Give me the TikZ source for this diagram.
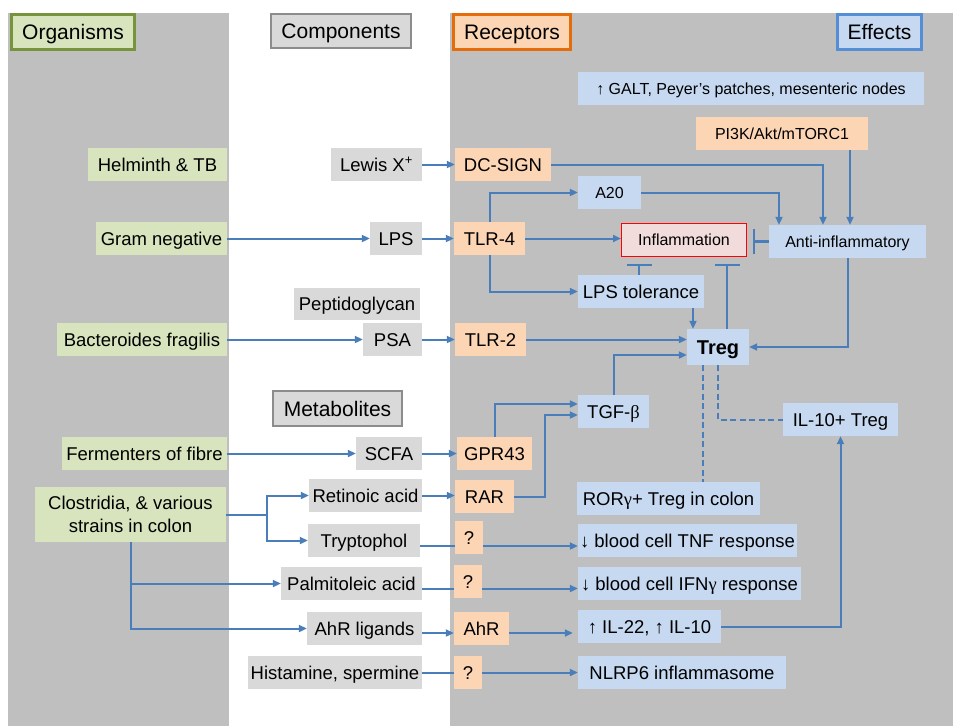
\documentclass[tikz,border=0pt]{standalone}
\usepackage{fontspec}
\setmainfont{Liberation Sans}
\newfontfamily\grk{Liberation Serif}
\usetikzlibrary{arrows.meta,calc}
\definecolor{panelgray}{HTML}{BFBFBF}
\definecolor{greenfill}{HTML}{D7E4BD}
\definecolor{grayfill}{HTML}{D9D9D9}
\definecolor{peach}{HTML}{FCD5B5}
\definecolor{bluefill}{HTML}{C6D9F1}
\definecolor{pinkfill}{HTML}{F2DCDB}
\definecolor{lineblue}{HTML}{4A7EBB}
\definecolor{olivebd}{HTML}{77933C}
\definecolor{graybd}{HTML}{8C8C8C}
\definecolor{orangebd}{HTML}{E46C0A}
\definecolor{bluebd}{HTML}{558ED5}
\newcommand{\bx}[7]{%
  \pgfmathsetmacro\myBW{#5-#3}%
  \pgfmathsetmacro\myBH{#6-#4}%
  \pgfmathsetmacro\myCX{(#3+#5)/2}%
  \pgfmathsetmacro\myCY{(#4+#6)/2}%
  \node[#1, minimum width=\myBW pt, minimum height=\myBH pt] (#2) at (\myCX,\myCY) {#7};}
\tikzset{
  base/.style={inner sep=0pt, text=black, align=center, font=\fontsize{18.5}{21.5}\selectfont},
  one/.style={text height=13.3pt, text depth=0pt},
  gbox/.style={base, one, fill=grayfill},
  obox/.style={base, one, fill=greenfill},
  rbox/.style={base, one, fill=peach},
  ebox/.style={base, one, fill=bluefill},
  small/.style={font=\fontsize{16}{19}\selectfont, text height=11.5pt},
  hdr/.style={base, font=\fontsize{21}{24}\selectfont, text height=15pt, text depth=0pt, line width=3pt},
  ln/.style={draw=lineblue, line width=2pt},
  arr/.style={ln, -{Triangle[length=8pt,width=7pt]}},
  inh/.style={draw=lineblue, line width=2.2pt, -{Bar[width=25pt,line width=2.2pt]}},
  dln/.style={ln, dash pattern=on 6pt off 3.5pt}
}
\begin{document}
\begin{tikzpicture}[x=1pt,y=-1pt]
\useasboundingbox (0,0) rectangle (953,726);
\fill[white] (0,0) rectangle (953,726);
\fill[panelgray] (8,13) rectangle (229,726);
\fill[panelgray] (450,13) rectangle (953,726);
% headers
\bx{hdr, fill=greenfill, draw=olivebd}{horg}{11.5}{14.5}{134.5}{49.5}{Organisms}
\bx{hdr, fill=grayfill, draw=graybd, line width=2pt}{hcomp}{271}{14}{411}{48}{Components}
\bx{hdr, fill=peach, draw=orangebd}{hrec}{453.5}{14.5}{570.5}{49.5}{Receptors}
\bx{hdr, fill=bluefill, draw=bluebd}{heff}{837.5}{14.5}{921.5}{49.5}{Effects}
\bx{hdr, fill=grayfill, draw=graybd, line width=2pt}{hmet}{273}{391}{402}{426}{Metabolites}
% organisms
\bx{obox}{helm}{88}{148}{227}{181}{Helminth \& TB}
\bx{obox}{gram}{96}{222}{227}{255}{Gram negative}
\bx{obox}{bfrag}{57}{323}{227}{356}{Bacteroides fragilis}
\bx{obox}{ferm}{62}{437}{227}{470}{Fermenters of fibre}
\bx{base, fill=greenfill, font=\fontsize{18.5}{23}\selectfont}{clos}{35}{487}{226}{542}{Clostridia, \& various\\strains in colon}
% components
\bx{gbox}{lewis}{331}{148}{422}{181}{Lewis X\textsuperscript{+}}
\bx{gbox}{lps}{370}{222}{422}{255}{LPS}
\bx{gbox}{pept}{294}{288}{420}{320}{Peptidoglycan}
\bx{gbox}{psa}{363}{323}{422}{356}{PSA}
\bx{gbox}{scfa}{356}{437}{422}{470}{SCFA}
\bx{gbox}{retacid}{309}{479}{422}{512}{Retinoic acid}
\bx{gbox}{tryp}{308}{524}{420}{557}{Tryptophol}
\bx{gbox}{palm}{281}{567}{422}{600}{Palmitoleic acid}
\bx{gbox}{ahrlig}{307}{612}{422}{645}{AhR ligands}
\bx{gbox}{hist}{248}{656}{422}{689}{Histamine, spermine}
% receptors
\bx{rbox}{dcsign}{455}{148}{551}{181}{DC-SIGN}
\bx{rbox}{tlr4}{454}{222}{525}{255}{TLR-4}
\bx{rbox}{tlr2}{455}{323}{526}{356}{TLR-2}
\bx{rbox}{gpr43}{457}{437}{532}{470}{GPR43}
\bx{rbox}{rar}{455}{480}{514}{513}{RAR}
\bx{rbox}{q1}{455}{521}{483}{554}{?}
\bx{rbox}{q2}{454}{565}{482}{598}{?}
\bx{rbox}{ahr}{454}{612}{509}{645}{AhR}
\bx{rbox}{q3}{454}{656}{482}{689}{?}
\bx{rbox, small}{pi3k}{696}{117}{868}{150}{PI3K/Akt/mTORC1}
% effects
\bx{ebox, small}{galt}{578}{72}{924}{105}{↑ GALT, Peyer’s patches, mesenteric nodes}
\bx{ebox, small}{a20}{578}{176}{641}{209}{A20}
\bx{base, one, small, fill=pinkfill, draw=red, line width=1.2pt}{infl}{621.6}{223.6}{746.4}{256.4}{Inflammation}
\bx{ebox, small}{anti}{769}{225}{926}{258}{Anti-inflammatory}
\bx{ebox}{lpstol}{578}{275}{704}{308}{LPS tolerance}
\bx{ebox, font=\bfseries\fontsize{20}{23}\selectfont, text height=14.5pt}{treg}{687}{329}{749}{365}{Treg}
\bx{ebox}{tgfb}{578}{395}{649}{428}{TGF-{\grk β}}
\bx{ebox}{il10t}{783}{403}{898}{436}{IL-10+ Treg}
\bx{ebox}{ror}{577}{482}{760}{515}{ROR{\grk γ}+ Treg in colon}
\bx{ebox}{tnf}{578}{524}{797}{557}{↓ blood cell TNF response}
\bx{ebox}{ifn}{578}{567}{801}{600}{↓ blood cell IFN{\grk γ} response}
\bx{ebox}{il22}{578}{610}{721}{643}{↑ IL-22, ↑ IL-10}
\bx{ebox}{nlrp}{578}{656}{786}{689}{NLRP6 inflammasome}
% connectors: top
\draw[arr] (lewis.east) -- (dcsign.west);
\draw[arr] (dcsign.east) -| ([xshift=-24.5pt]anti.north);
\coordinate (pk) at ([xshift=2.5pt]anti.north);
\draw[arr] (pi3k.south -| pk) -- (pk);
\draw[arr] (a20.east) -| ([xshift=-68.5pt]anti.north);
\draw[arr] (tlr4.north) |- (a20.west);
\draw[arr] (tlr4.east) -- (tlr4.east -| infl.west);
\draw[arr] (tlr4.south) |- (lpstol.west);
\coordinate (ie) at ([xshift=6pt]infl.east);
\draw[inh] (anti.west) -- (anti.west -| ie);
\coordinate (ib) at ([yshift=-7pt]infl.south);
\coordinate (lt) at ([xshift=-2pt]lpstol.north);
\draw[inh] (lt) -- (lt |- ib);
\coordinate (tt) at ([xshift=9pt]treg.north);
\draw[inh] (tt) -- (tt |- ib);
\coordinate (lb) at ([xshift=52pt]lpstol.south);
\draw[arr] (lb) -- (lb |- treg.north);
\draw[arr] (tlr2.east) -- (tlr2.east -| treg.west);
\draw[arr] (tgfb.north) |- ([yshift=-8pt]treg.west);
\draw[arr] (anti.south) |- (treg.east);
\draw[arr] (gpr43.north) |- ([yshift=7.5pt]tgfb.west);
\draw[arr] (rar.east) -- ++(31,0) |- ([yshift=-3.5pt]tgfb.west);
\coordinate (td) at ([xshift=-15pt]treg.south);
\draw[dln] (td) -- (td |- ror.north);
\draw[dln] (treg.south) |- (il10t.west);
\draw[arr] (il22.east) -| (il10t.south);
% left connectors
\draw[arr] (gram.east) -- (lps.west);
\draw[arr] (lps.east) -- (tlr4.west);
\draw[arr] (bfrag.east) -- (psa.west);
\draw[arr] (psa.east) -- (tlr2.west);
\draw[arr] (ferm.east) -- (scfa.west);
\draw[arr] (scfa.east) -- (gpr43.west);
\coordinate (cb) at ([xshift=41pt]clos.east);
\draw[ln] (clos.east) -- (cb);
\draw[arr] (cb) |- (retacid.west);
\draw[arr] (cb) |- (tryp.west);
\draw[arr] (clos.south) |- (palm.west);
\draw[arr] (clos.south) |- (ahrlig.west);
\draw[arr] (retacid.east) -- (retacid.east -| rar.west);
\coordinate (r1) at ([yshift=-5.5pt]tnf.west);
\draw[ln] (tryp.east |- r1) -- (q1.west |- r1);
\draw[arr] (q1.east |- r1) -- (r1);
\coordinate (r2) at ([yshift=-5pt]ifn.west);
\draw[ln] (palm.east |- r2) -- (q2.west |- r2);
\draw[arr] (q2.east |- r2) -- (r2);
\coordinate (r3) at ([yshift=-6.5pt]il22.west);
\draw[arr] (ahrlig.east |- r3) -- (ahr.west |- r3);
\draw[arr] (ahr.east |- r3) -- ([xshift=-5pt]r3);
\draw[ln] (hist.east) -- (hist.east -| q3.west);
\draw[arr] (q3.east) -- (q3.east -| nlrp.west);
\end{tikzpicture}
\end{document}
